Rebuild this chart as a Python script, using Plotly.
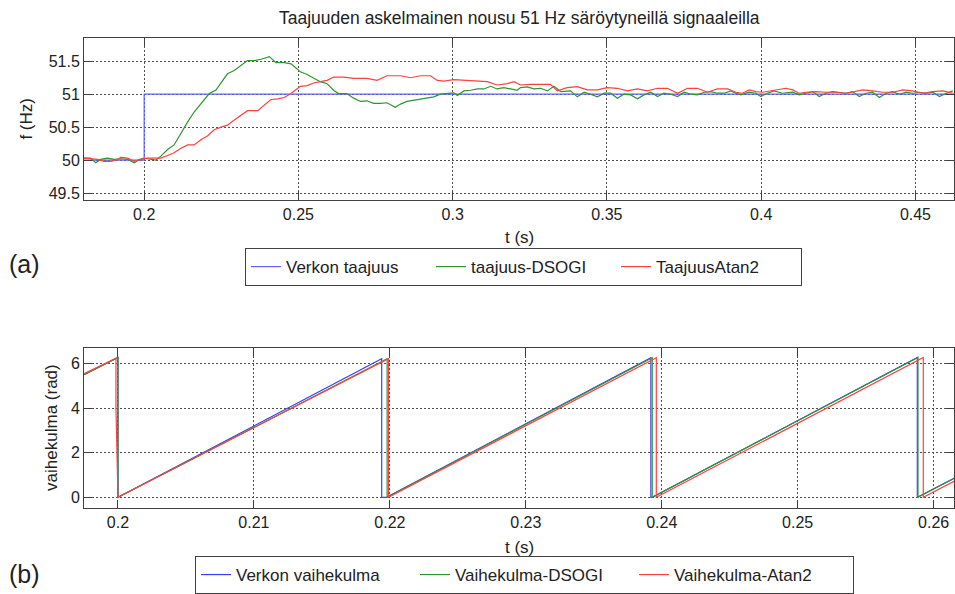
import plotly.graph_objects as go

# ---------------- (a) frequency step response ----------------
step_t = [0.1805, 0.2000, 0.2000, 0.4625]
step_f = [50.0, 50.0, 51.0, 51.0]

dsogi_t = [0.1805, 0.1827, 0.1843, 0.1859, 0.1881, 0.1903, 0.1924, 0.1946, 0.1968, 0.1984,
           0.2000, 0.2022, 0.2038, 0.2054, 0.2076, 0.2097, 0.2119, 0.2141, 0.2162, 0.2184,
           0.2211, 0.2232, 0.2249, 0.2270, 0.2292, 0.2314, 0.2335, 0.2357, 0.2379, 0.2406,
           0.2427, 0.2454, 0.2476, 0.2497,
           0.2506, 0.2528, 0.2549, 0.2571, 0.2593, 0.2614, 0.2630, 0.2657, 0.2679, 0.2701,
           0.2722, 0.2744, 0.2766, 0.2787, 0.2814, 0.2831, 0.2852, 0.2874, 0.2896, 0.2917,
           0.2939, 0.2960, 0.2982, 0.3004, 0.3015, 0.3036, 0.3058, 0.3080, 0.3101, 0.3123,
           0.3144, 0.3166, 0.3188, 0.3209,
           0.3220, 0.3242, 0.3263, 0.3285, 0.3307, 0.3328, 0.3350, 0.3382, 0.3404, 0.3426,
           0.3447, 0.3469, 0.3491, 0.3512, 0.3534, 0.3555, 0.3577, 0.3599, 0.3620, 0.3642,
           0.3664, 0.3685, 0.3707, 0.3729, 0.3750, 0.3772, 0.3793, 0.3815, 0.3837, 0.3858,
           0.3880, 0.3902,
           0.3918, 0.3934, 0.3961, 0.3983, 0.3999, 0.4020, 0.4042, 0.4069, 0.4102, 0.4123,
           0.4145, 0.4167, 0.4188, 0.4210, 0.4231, 0.4253, 0.4275, 0.4296, 0.4318, 0.4340,
           0.4361, 0.4383, 0.4405, 0.4426, 0.4448, 0.4470, 0.4491, 0.4513, 0.4535, 0.4556,
           0.4578, 0.4600, 0.4621]
dsogi_f = [50.03, 50.03, 49.96, 50.01, 50.03, 50.01, 50.02, 50.01, 49.96, 50.01,
           50.03, 50.01, 50.00, 50.06, 50.16, 50.23, 50.41, 50.58, 50.73, 50.86,
           51.01, 51.06, 51.18, 51.31, 51.36, 51.44, 51.51, 51.51, 51.53, 51.57,
           51.48, 51.48, 51.46, 51.38,
           51.34, 51.30, 51.24, 51.19, 51.16, 51.06, 51.01, 51.01, 50.94, 50.89,
           50.90, 50.86, 50.86, 50.87, 50.80, 50.85, 50.89, 50.91, 50.92, 50.94,
           50.96, 51.00, 51.01, 51.02, 50.98, 51.05, 51.06, 51.08, 51.08, 51.12,
           51.08, 51.10, 51.08, 51.06,
           51.10, 51.11, 51.08, 51.09, 51.05, 51.12, 51.04, 51.05, 50.96, 51.03,
           51.00, 50.96, 51.015, 51.015, 50.94, 51.00, 50.99, 50.93, 50.99, 51.03,
           50.965, 51.015, 51.00, 50.965, 51.03, 51.00, 50.99, 51.03, 51.04, 51.015,
           51.015, 51.05,
           51.015, 50.99, 51.03, 51.015, 50.965, 51.015, 51.05, 51.015, 51.03, 50.99,
           51.015, 51.04, 50.965, 51.015, 51.04, 51.03, 51.015, 51.04, 50.965, 51.015,
           51.03, 50.95, 51.015, 51.04, 51.00, 51.03, 51.015, 51.03, 51.015, 51.03,
           50.965, 51.015, 51.05]

atan_t = [0.1805, 0.1827, 0.1849, 0.1870, 0.1892, 0.1914, 0.1924, 0.1946, 0.1968, 0.1989,
          0.2011, 0.2033, 0.2054, 0.2076, 0.2097, 0.2119, 0.2141, 0.2162, 0.2184, 0.2206,
          0.2227, 0.2249, 0.2270, 0.2292, 0.2314, 0.2335, 0.2368, 0.2389, 0.2411, 0.2433,
          0.2454, 0.2476, 0.2497,
          0.2506, 0.2528, 0.2549, 0.2571, 0.2593, 0.2614, 0.2647, 0.2679, 0.2722, 0.2755,
          0.2787, 0.2831, 0.2863, 0.2896, 0.2928, 0.2950, 0.2971, 0.3004, 0.3036, 0.3069,
          0.3112, 0.3144, 0.3177, 0.3199,
          0.3220, 0.3252, 0.3285, 0.3317, 0.3339, 0.3371, 0.3404, 0.3436, 0.3469, 0.3501,
          0.3534, 0.3566, 0.3599, 0.3631, 0.3664, 0.3696, 0.3729, 0.3761, 0.3793, 0.3826,
          0.3858, 0.3891,
          0.3918, 0.3939, 0.3961, 0.3983, 0.4004, 0.4026, 0.4047, 0.4080, 0.4102, 0.4123,
          0.4145, 0.4177, 0.4210, 0.4242, 0.4275, 0.4296, 0.4329, 0.4361, 0.4394, 0.4426,
          0.4459, 0.4491, 0.4524, 0.4556, 0.4589, 0.4621]
atan_f = [50.03, 50.02, 50.01, 49.98, 49.98, 50.01, 50.04, 50.03, 49.98, 50.01,
          50.03, 50.03, 50.03, 50.07, 50.11, 50.18, 50.23, 50.23, 50.31, 50.37,
          50.46, 50.50, 50.53, 50.61, 50.68, 50.75, 50.75, 50.83, 50.92, 50.93,
          50.95, 51.01, 51.09,
          51.12, 51.13, 51.17, 51.19, 51.21, 51.26, 51.26, 51.24, 51.24, 51.21,
          51.28, 51.28, 51.25, 51.28, 51.28, 51.21, 51.20, 51.22, 51.21, 51.20,
          51.19, 51.14, 51.16, 51.19,
          51.14, 51.15, 51.15, 51.15, 51.05, 51.10, 51.115, 51.065, 51.065, 51.10,
          51.09, 51.05, 51.08, 51.05, 51.09, 51.09, 51.015, 51.09, 51.09, 51.03,
          51.08, 51.08,
          51.03, 51.015, 51.065, 51.04, 51.03, 51.05, 51.065, 51.09, 51.065, 51.015,
          51.03, 51.04, 51.03, 51.03, 51.015, 51.03, 51.065, 51.05, 51.03, 51.03,
          51.065, 51.05, 51.015, 51.04, 51.05, 51.015]

# ---------------- (b) phase angle ----------------
grid_ph_t = [0.1975, 0.2000, 0.2000, 0.2194, 0.2194, 0.21975, 0.2392, 0.2392, 0.2393, 0.2588, 0.2588, 0.2615]
grid_ph = [5.50, 6.28, 0.0, 6.22, 0.0, 0.0, 6.27, 0.0, 0.0, 6.28, 0.0, 0.86]

dsogi_ph_t = [0.1975, 0.2000, 0.2000, 0.2198, 0.2198, 0.2393, 0.2393, 0.25885, 0.25885, 0.2615]
dsogi_ph = [5.50, 6.28, 0.0, 6.22, 0.0, 6.27, 0.0, 6.28, 0.0, 0.85]

atan_ph_t = [0.1975, 0.19985, 0.19985, 0.2000, 0.2199, 0.2199, 0.2396, 0.2396, 0.25924, 0.25924, 0.2615]
atan_ph = [5.55, 6.25, 4.0, 0.0, 6.22, 0.0, 6.27, 0.0, 6.28, 0.0, 0.72]

# tick positions / labels
f_ticks = [49.5, 50, 50.5, 51, 51.5]
f_ticktext = ["49.5", "50", "50.5", "51", "51.5"]
t1_ticks = [0.2, 0.25, 0.3, 0.35, 0.4, 0.45]
t1_ticktext = ["0.2", "0.25", "0.3", "0.35", "0.4", "0.45"]
ph_ticks = [0, 2, 4, 6]
ph_ticktext = ["0", "2", "4", "6"]
t2_ticks = [0.2, 0.21, 0.22, 0.23, 0.24, 0.25, 0.26]
t2_ticktext = ["0.2", "0.21", "0.22", "0.23", "0.24", "0.25", "0.26"]

BLUE = "rgb(96,96,255)"
GREEN = "rgb(46,150,46)"
RED = "rgb(255,64,64)"
FONT = "Liberation Sans, Arial, sans-serif"

fig = go.Figure()

# (a)
fig.add_trace(go.Scatter(x=step_t, y=step_f, mode="lines", name="Verkon taajuus",
                         line=dict(color=BLUE, width=1.2), xaxis="x", yaxis="y", legend="legend"))
fig.add_trace(go.Scatter(x=dsogi_t, y=dsogi_f, mode="lines", name="taajuus-DSOGI",
                         line=dict(color=GREEN, width=1.2), xaxis="x", yaxis="y", legend="legend"))
fig.add_trace(go.Scatter(x=atan_t, y=atan_f, mode="lines", name="TaajuusAtan2",
                         line=dict(color=RED, width=1.2), xaxis="x", yaxis="y", legend="legend"))

# (b)
fig.add_trace(go.Scatter(x=grid_ph_t, y=grid_ph, mode="lines", name="Verkon vaihekulma",
                         line=dict(color="rgb(60,60,255)", width=1.2), xaxis="x2", yaxis="y2", legend="legend2"))
fig.add_trace(go.Scatter(x=dsogi_ph_t, y=dsogi_ph, mode="lines", name="Vaihekulma-DSOGI",
                         line=dict(color=GREEN, width=1.2), xaxis="x2", yaxis="y2", legend="legend2"))
fig.add_trace(go.Scatter(x=atan_ph_t, y=atan_ph, mode="lines", name="Vaihekulma-Atan2",
                         line=dict(color=RED, width=1.2), xaxis="x2", yaxis="y2", legend="legend2"))

axis_common = dict(
    showline=True, linecolor="#404040", linewidth=1, mirror="ticks",
    ticks="inside", ticklen=8, tickcolor="#404040", tickwidth=1,
    showgrid=True, gridcolor="#505050", gridwidth=1, griddash="2px,2px",
    zeroline=False, tickfont=dict(family=FONT, size=16, color="#222"),
)

W, H = 955, 594
L, R = 84, 1
PW = W - L - R


def px(x):
    # figure pixel column -> paper x (paper spans the plot area horizontally)
    return (x - L) / PW


def py(y):
    return 1 - y / H


fig.update_layout(
    width=W, height=H,
    margin=dict(l=L, r=R, t=0, b=0),
    paper_bgcolor="white", plot_bgcolor="white",
    font=dict(family=FONT, color="#222"),
    showlegend=True,
    xaxis=dict(domain=[0, 1], range=[0.1805, 0.4625], anchor="y",
               tickvals=t1_ticks, ticktext=t1_ticktext, **axis_common),
    yaxis=dict(domain=[py(202), py(38)], range=[49.4, 51.86], anchor="x",
               tickvals=f_ticks, ticktext=f_ticktext, **axis_common),
    xaxis2=dict(domain=[0, 1], range=[0.1975, 0.2615], anchor="y2",
                tickvals=t2_ticks, ticktext=t2_ticktext, **axis_common),
    yaxis2=dict(domain=[py(514), py(352)], range=[-0.475, 6.71], anchor="x2",
                tickvals=ph_ticks, ticktext=ph_ticktext, **axis_common),
    legend=dict(orientation="h", x=px(245), y=py(251), xanchor="left", yanchor="top",
                xref="paper", yref="paper",
                bgcolor="white", bordercolor="#404040", borderwidth=1,
                font=dict(family=FONT, size=17, color="#222"),
                itemwidth=30, entrywidth=140, entrywidthmode="pixels"),
    legend2=dict(orientation="h", x=px(195), y=py(563), xanchor="left", yanchor="top",
                 xref="paper", yref="paper",
                 bgcolor="white", bordercolor="#404040", borderwidth=1,
                 font=dict(family=FONT, size=17, color="#222"),
                 itemwidth=30, entrywidth=174, entrywidthmode="pixels"),
)

annotations = [
    dict(text="Taajuuden askelmainen nousu 51 Hz säröytyneillä signaaleilla",
         x=0.5, y=py(18), font=dict(size=17.5)),
    dict(text="t (s)", x=0.5, y=py(240), font=dict(size=17)),
    dict(text="t (s)", x=0.5, y=py(554), font=dict(size=17)),
    dict(text="f (Hz)", x=px(27), y=py(120), textangle=-90, font=dict(size=17)),
    dict(text="vaihekulma (rad)", x=px(52), y=py(433), textangle=-90, font=dict(size=17)),
    dict(text="(a)", x=px(24), y=py(267), font=dict(size=25)),
    dict(text="(b)", x=px(24), y=py(581), font=dict(size=25)),
]
for a in annotations:
    a.update(xref="paper", yref="paper", showarrow=False, xanchor="center", yanchor="middle")
    a["font"].update(family=FONT, color="#222")
fig.update_layout(annotations=annotations)

fig.write_html("out.html")
